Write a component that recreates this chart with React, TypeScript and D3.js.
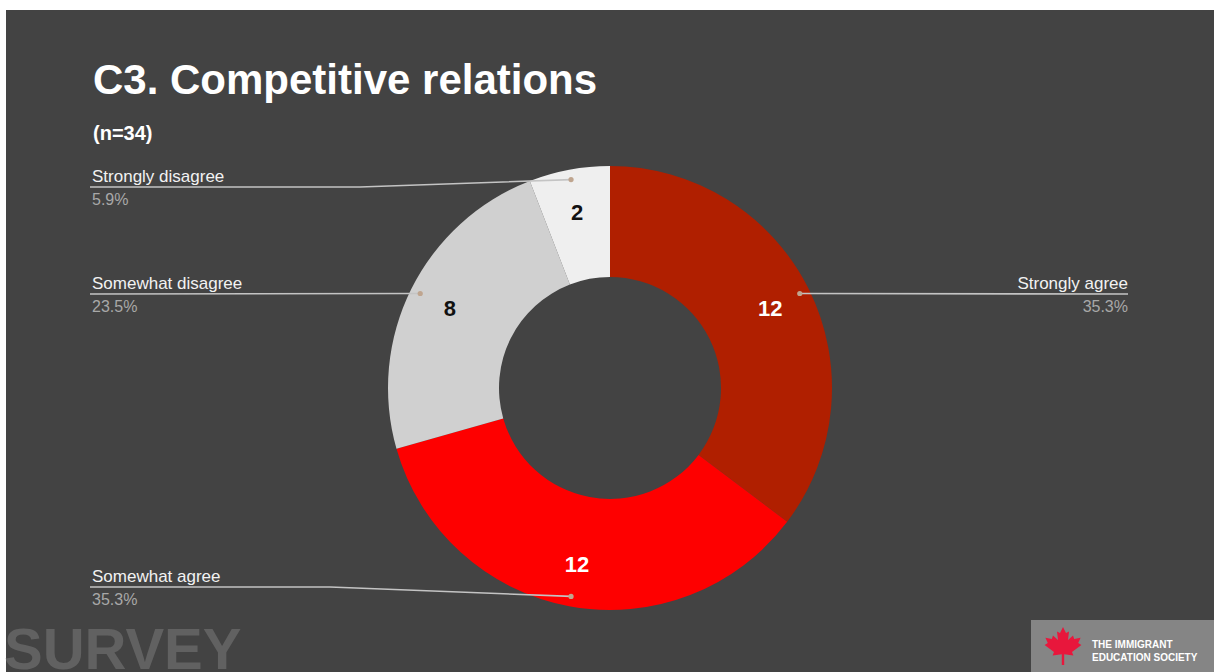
import React from "react";
import * as d3 from "d3";

const categories = ["Strongly agree", "Somewhat agree", "Somewhat disagree", "Strongly disagree"];
const counts = [12, 12, 8, 2];
const percentLabels = ["35.3%", "35.3%", "23.5%", "5.9%"];
const sliceColors = ["#b01f00", "#fe0000", "#d0d0d0", "#efefef"];
const valueTextColors = ["#ffffff", "#ffffff", "#111111", "#111111"];

const titleText = "C3. Competitive relations";
const subtitleText = "(n=34)";

// label layout: side, text anchor x, line y, optional elbow x
const labelLayout = [
  { side: "right", x: 1128, y: 294, elbow: null as number | null },
  { side: "left", x: 92, y: 587, elbow: 330 },
  { side: "left", x: 92, y: 294, elbow: null as number | null },
  { side: "left", x: 92, y: 187, elbow: 360 },
];

export default function App() {
  const W = 1214;
  const H = 672;
  const cx = 610;
  const cy = 388;
  const rOuter = 222;
  const rInner = 111;

  const pie = d3
    .pie<number>()
    .sort(null)
    .value((d) => d)
    .startAngle(0)
    .endAngle(2 * Math.PI);
  const arcs = pie(counts);
  const arc = d3.arc<d3.PieArcDatum<number>>().innerRadius(rInner).outerRadius(rOuter);
  const labelArc = d3.arc<d3.PieArcDatum<number>>().innerRadius(179).outerRadius(179);
  const dotArc = d3.arc<d3.PieArcDatum<number>>().innerRadius(212).outerRadius(212);

  const font = "'Liberation Sans', Arial, Helvetica, sans-serif";

  const leaf: [number, number][] = [
    [0, -1], [0.15, -0.7], [0.3, -0.78], [0.25, -0.35], [0.5, -0.58], [0.56, -0.4],
    [0.88, -0.46], [0.76, -0.2], [0.92, -0.1], [0.45, 0.25], [0.52, 0.42], [0.06, 0.36],
    [0.06, 0.9], [-0.06, 0.9], [-0.06, 0.36], [-0.52, 0.42], [-0.45, 0.25], [-0.92, -0.1],
    [-0.76, -0.2], [-0.88, -0.46], [-0.56, -0.4], [-0.5, -0.58], [-0.25, -0.35], [-0.3, -0.78],
    [-0.15, -0.7],
  ];
  const leafPath =
    "M" + leaf.map(([x, y]) => `${1063 + x * 20},${647 + y * 20}`).join("L") + "Z";

  return (
    <svg
      width={W}
      height={H}
      style={{ position: "absolute", left: 0, top: 0, display: "block" }}
    >
      <rect x={0} y={0} width={W} height={H} fill="#ffffff" />
      <rect x={6} y={10} width={W - 6} height={H - 10} fill="#434343" />

      <text x={93} y={94} fill="#ffffff" fontFamily={font} fontWeight="bold" fontSize={42}>
        {titleText}
      </text>
      <text x={93} y={140} fill="#ffffff" fontFamily={font} fontWeight="bold" fontSize={20}>
        {subtitleText}
      </text>

      <g transform={`translate(${cx},${cy})`}>
        {arcs.map((a, i) => (
          <path key={i} d={arc(a) || ""} fill={sliceColors[i]} />
        ))}
      </g>

      {arcs.map((a, i) => {
        const [dx, dy] = dotArc.centroid(a);
        const px = cx + dx;
        const py = cy + dy;
        const L = labelLayout[i];
        let pts: [number, number][];
        if (L.side === "right") {
          pts = [[px, py], [L.x, L.y]];
        } else if (L.elbow !== null) {
          pts = [[L.x - 2, L.y], [L.elbow, L.y], [px, py]];
        } else {
          pts = [[L.x - 2, L.y], [px, py]];
        }
        const anchor = L.side === "right" ? "end" : "start";
        return (
          <g key={"lbl" + i}>
            <polyline
              points={pts.map((p) => p.join(",")).join(" ")}
              fill="none"
              stroke="#c4c4c4"
              strokeWidth={1.6}
            />
            <circle cx={px} cy={py} r={2.6} fill="#bfa58f" />
            <text
              x={L.x}
              y={L.y - 5}
              textAnchor={anchor}
              fill="#f2f2f2"
              fontFamily={font}
              fontSize={17}
            >
              {categories[i]}
            </text>
            <text
              x={L.x}
              y={L.y + 18}
              textAnchor={anchor}
              fill="#a8a8a8"
              fontFamily={font}
              fontSize={16}
            >
              {percentLabels[i]}
            </text>
          </g>
        );
      })}

      {arcs.map((a, i) => {
        const [lx, ly] = labelArc.centroid(a);
        return (
          <text
            key={"v" + i}
            x={cx + lx}
            y={cy + ly}
            dy="0.36em"
            textAnchor="middle"
            fill={valueTextColors[i]}
            fontFamily={font}
            fontWeight="bold"
            fontSize={22}
          >
            {counts[i]}
          </text>
        );
      })}

      <text x={4} y={669} fill="#616161" fontFamily={font} fontWeight="bold" fontSize={58}>
        SURVEY
      </text>

      <rect x={1031} y={620} width={183} height={52} fill="#858585" />
      <path d={leafPath} fill="#e8173c" />
      <text x={1092} y={648} fill="#ffffff" fontFamily={font} fontWeight="bold" fontSize={10}>
        THE IMMIGRANT
      </text>
      <text x={1092} y={661} fill="#ffffff" fontFamily={font} fontWeight="bold" fontSize={10}>
        EDUCATION SOCIETY
      </text>
    </svg>
  );
}
